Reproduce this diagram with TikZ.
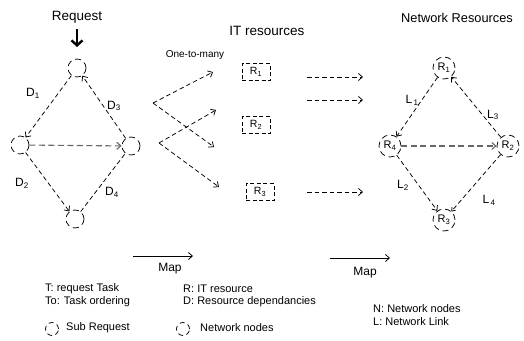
\documentclass[tikz,border=0pt]{standalone}
\usepackage{fontspec}
\setmainfont{Liberation Sans}
\usetikzlibrary{arrows.meta}

\newcommand{\sub}[1]{\textsubscript{#1}}

\tikzset{
  x=1pt, y=-1pt,
  dline/.style={dash pattern=on 4.5pt off 3pt, line width=0.75pt},
  darrow/.style={dline, -{Straight Barb[length=4pt,width=7pt]}},
  harrow/.style={dash pattern=on 6pt off 3.5pt, line width=1.1pt, draw=black!60,
                 -{Straight Barb[length=4pt,width=7pt]}},
  task/.style={circle, draw, dash pattern=on 6pt off 4pt, line width=0.75pt,
               minimum size=18pt, inner sep=0pt},
  netnode/.style={circle, draw, dash pattern=on 6pt off 4pt, line width=0.75pt,
                  minimum size=22pt, inner sep=0pt, font=\fontsize{11}{12}\selectfont},
  itbox/.style={rectangle, draw, dash pattern=on 4pt off 2.5pt, line width=0.75pt,
                minimum width=28pt, minimum height=17pt, inner sep=1pt,
                font=\fontsize{10.5}{12}\selectfont},
  title/.style={font=\fontsize{13.5}{15}\selectfont},
  lbl/.style={font=\fontsize{12}{14}\selectfont},
  legend/.style={anchor=west, inner sep=0pt, font=\fontsize{11}{13}\selectfont},
  maparrow/.style={line width=0.8pt, -{Straight Barb[length=4pt,width=7pt]}},
  legcircle/.style={circle, draw, dash pattern=on 5pt off 3.5pt, line width=0.75pt,
                    minimum size=13pt, inner sep=0pt}
}

\begin{document}
\begin{tikzpicture}
\useasboundingbox (0,0) rectangle (524,340);

% ---- request graph ----
\node[title] (req) at (77,17) {Request};
\coordinate (reqtail) at (77,29);
\coordinate (reqtip) at (77,47);
\draw[line width=2.4pt, -{Straight Barb[length=5pt,width=11pt]}] (reqtail) -- (reqtip);

\node[task] (t1) at (77,68) {};
\node[task] (t2) at (20,145) {};
\node[task] (t3) at (131,146) {};
\node[task] (t4) at (75,219) {};

\draw[darrow] (t1) -- (t2);
\draw[darrow] (t3) -- (t1);
\draw[harrow] (t2) -- (t3);
\draw[darrow] (t2) -- (t4);
\draw[dline] (t4) -- (t3);

\node[lbl] at (33,93) {D\sub{1}};
\node[lbl] at (114,106) {D\sub{3}};
\node[lbl] at (22,183) {D\sub{2}};
\node[lbl] at (112,192) {D\sub{4}};

% ---- one-to-many fan ----
\node[font=\fontsize{10}{12}\selectfont] (otm) at (195,55) {One-to-many};
\coordinate (f1) at (153,103);
\coordinate (a1) at (213,72);
\coordinate (a2) at (214,147);
\coordinate (f2) at (159,143);
\coordinate (b1) at (216,110);
\coordinate (b2) at (219,187);
\draw[darrow] (f1) -- (a1);
\draw[darrow] (f1) -- (a2);
\draw[darrow] (f2) -- (b1);
\draw[darrow] (f2) -- (b2);

% ---- IT resources ----
\node[title] (itt) at (267,31) {IT resources};
\node[itbox] (r1) at (256,72) {R\sub{1}};
\node[itbox] (r2) at (256,125) {R\sub{2}};
\node[itbox] (r3) at (260,192) {R\sub{3}};

\coordinate (m1s) at (307,77);  \coordinate (m1e) at (363,77);
\coordinate (m2s) at (307,100); \coordinate (m2e) at (363,100);
\coordinate (m3s) at (307,192); \coordinate (m3e) at (363,192);
\draw[darrow] (m1s) -- (m1e);
\draw[darrow] (m2s) -- (m2e);
\draw[darrow] (m3s) -- (m3e);

% ---- network resources ----
\node[font=\fontsize{12.8}{15}\selectfont] (nrt) at (457,18) {Network Resources};
\node[netnode] (n1) at (444,68) {R\sub{1}};
\node[netnode] (n4) at (390,146) {R\sub{4}};
\node[netnode] (n2) at (508,146) {R\sub{2}};
\node[netnode] (n3) at (444,220) {R\sub{3}};

\draw[darrow] (n1) -- (n4);
\draw[darrow] (n2) -- (n1);
\draw[harrow] (n4) -- (n2);
\draw[darrow] (n4) -- (n3);
\draw[dline, -{Straight Barb[length=3pt,width=5pt]}] (n2) -- (n3);

\node[lbl] at (412,100) {L\sub{\,1}};
\node[lbl] at (493,115) {L\sub{3}};
\node[lbl] at (403,185) {L\sub{2}};
\node[lbl] at (489,200) {L\sub{\,4}};

% ---- map arrows ----
\coordinate (map1s) at (133,256); \coordinate (map1e) at (193,256);
\coordinate (map2s) at (330,258); \coordinate (map2e) at (390,258);
\draw[maparrow] (map1s) -- (map1e);
\draw[maparrow] (map2s) -- (map2e);
\node[font=\fontsize{12}{14}\selectfont] (map1) at (170,269) {Map};
\node[font=\fontsize{12}{14}\selectfont] (map2) at (365,273) {Map};

% ---- legend ----
\node[legend] (lg1) at (45,289) {T: request Task};
\node[legend] (lg2) at (45,302) {To: Task ordering};
\node[legend] (lg3) at (183,289) {R: IT resource};
\node[legend] (lg4) at (183,302) {D: Resource dependancies};
\node[legend] (lg5) at (373,309) {N: Network nodes};
\node[legend] (lg6) at (373,322) {L: Network Link};

\node[legcircle] (lc1) at (52,329) {};
\node[legend] (lg7) at (66,328) {Sub Request};
\node[legcircle] (lc2) at (183,329) {};
\node[legend] (lg8) at (200,328) {Network nodes};
\end{tikzpicture}
\end{document}
